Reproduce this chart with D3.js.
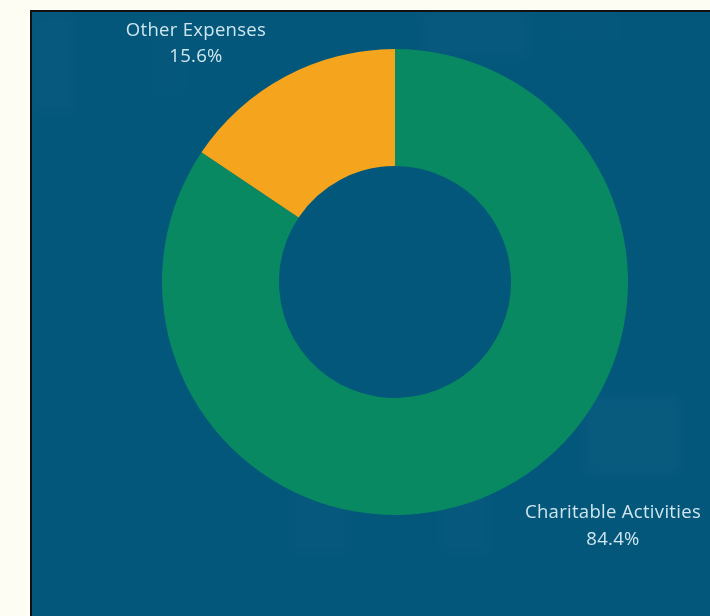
<!DOCTYPE html>
<html>
<head>
<meta charset="utf-8">
<script src="https://cdn.jsdelivr.net/npm/d3@7"></script>
<style>
  html, body { margin: 0; padding: 0; background: #fdfdf4; }
  svg { display: block; }
</style>
</head>
<body>
<script>
// Expense breakdown (percent of total)
const categories = ["Charitable Activities", "Other Expenses"];
const shares = [84.4, 15.6];
const shareLabels = ["84.4%", "15.6%"];
const sliceColors = ["#088962", "#f4a41d"];

const W = 710, H = 616;
const svg = d3.select("body").append("svg").attr("width", W).attr("height", H);

// Card with dark edge
svg.append("rect").attr("x", 30).attr("y", 10).attr("width", W - 30).attr("height", H - 10).attr("fill", "#111");
svg.append("rect").attr("x", 32).attr("y", 12).attr("width", W - 32).attr("height", H - 12).attr("fill", "#03577b");

// Faint photographic texture patches behind the chart
const defs = svg.append("defs");
const pat = defs.append("pattern").attr("id", "lines").attr("width", 4).attr("height", 3).attr("patternUnits", "userSpaceOnUse");
pat.append("rect").attr("width", 4).attr("height", 1).attr("fill", "#ffffff");
defs.append("filter").attr("id", "soft").append("feGaussianBlur").attr("stdDeviation", 6);
const patches = [
  [34, 14, 42, 100, 0.06], [420, 12, 110, 48, 0.06], [560, 12, 60, 30, 0.04],
  [585, 395, 95, 80, 0.08], [290, 495, 60, 60, 0.05], [440, 485, 50, 70, 0.05],
  [150, 14, 40, 80, 0.03]
];
const tex = svg.append("g").attr("filter", "url(#soft)");
patches.forEach(p => {
  tex.append("rect").attr("x", p[0]).attr("y", p[1]).attr("width", p[2]).attr("height", p[3])
    .attr("fill", "url(#lines)").attr("opacity", p[4]);
});

// Donut
const cx = 395, cy = 282, rOuter = 233, rInner = 116;
const pie = d3.pie().sort(null).value(d => d.v);
const arc = d3.arc().innerRadius(rInner).outerRadius(rOuter);
const data = categories.map((c, i) => ({ c, v: shares[i], color: sliceColors[i] }));

svg.append("g").attr("transform", `translate(${cx},${cy})`)
  .selectAll("path").data(pie(data)).join("path")
  .attr("d", arc).attr("fill", d => d.data.color);

// Labels
const labelPos = [
  { x: 613, y1: 518, y2: 545 },
  { x: 196, y1: 36, y2: 62 }
];
const lbl = svg.append("g")
  .attr("font-family", "'Open Sans', sans-serif")
  .attr("font-size", 18.5)
  .attr("letter-spacing", 0.3)
  .attr("fill", "#cfe6ef")
  .attr("text-anchor", "middle");
data.forEach((d, i) => {
  lbl.append("text").attr("x", labelPos[i].x).attr("y", labelPos[i].y1).text(d.c);
  lbl.append("text").attr("x", labelPos[i].x).attr("y", labelPos[i].y2).text(shareLabels[i]);
});
</script>
</body>
</html>
